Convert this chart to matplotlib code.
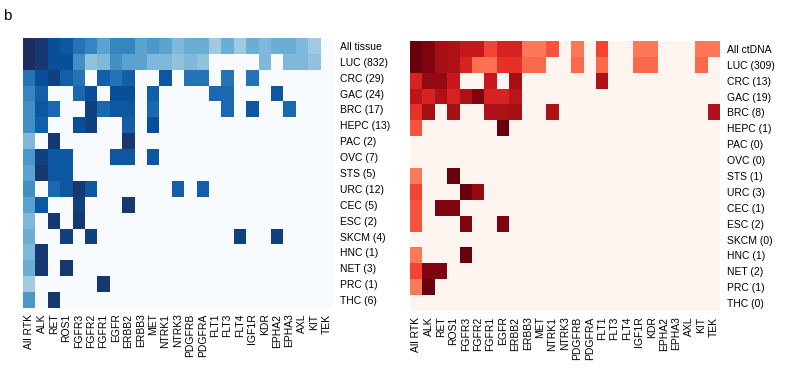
import numpy as np
import matplotlib
matplotlib.use('Agg')
import matplotlib.pyplot as plt
from matplotlib.colors import LinearSegmentedColormap

plt.rcParams['font.family'] = ['Liberation Sans', 'DejaVu Sans']

genes = ['All RTK', 'ALK', 'RET', 'ROS1', 'FGFR3', 'FGFR2', 'FGFR1', 'EGFR', 'ERBB2', 'ERBB3',
         'MET', 'NTRK1', 'NTRK3', 'PDGFRB', 'PDGFRA', 'FLT1', 'FLT3', 'FLT4', 'IGF1R', 'KDR',
         'EPHA2', 'EPHA3', 'AXL', 'KIT', 'TEK']

tissue_labels = ['All tissue', 'LUC (832)', 'CRC (29)', 'GAC (24)', 'BRC (17)', 'HEPC (13)',
                 'PAC (2)', 'OVC (7)', 'STS (5)', 'URC (12)', 'CEC (5)', 'ESC (2)', 'SKCM (4)',
                 'HNC (1)', 'NET (3)', 'PRC (1)', 'THC (6)']
ctdna_labels = ['All ctDNA', 'LUC (309)', 'CRC (13)', 'GAC (19)', 'BRC (8)', 'HEPC (1)',
                'PAC (0)', 'OVC (0)', 'STS (1)', 'URC (3)', 'CEC (1)', 'ESC (2)', 'SKCM (0)',
                'HNC (1)', 'NET (2)', 'PRC (1)', 'THC (0)']

# relative intensity per cell (0 = none)
tissue_vals = [
    [1.0, .96, .88, .85, .74, .67, .55, .67, .67, .55, .60, .55, .45, .50, .50, .37, .50, .37, .50, .45, .50, .50, .45, .37, 0],
    [1.0, .96, .88, .88, .63, .41, .45, .63, .55, .55, .45, .45, .41, .45, .41, 0, 0, 0, 0, .45, 0, .45, .45, .41, 0],
    [.74, .88, .93, .82, .74, 0, .82, .74, .82, 0, 0, .85, 0, .74, .74, 0, .74, 0, .74, 0, 0, 0, 0, 0, 0],
    [.67, .82, 0, 0, .78, .88, 0, .88, .88, 0, .82, 0, 0, 0, 0, .78, .78, 0, 0, 0, .85, 0, 0, 0, 0],
    [.63, .85, .78, 0, 0, .93, .78, .85, .85, 0, .78, 0, 0, 0, 0, 0, .78, 0, .85, 0, 0, .78, 0, 0, 0],
    [.63, .82, 0, 0, .88, .93, 0, 0, .82, 0, .88, 0, 0, 0, 0, 0, 0, 0, 0, 0, 0, 0, 0, 0, 0],
    [.45, 0, .96, 0, 0, 0, 0, 0, .96, 0, 0, 0, 0, 0, 0, 0, 0, 0, 0, 0, 0, 0, 0, 0, 0],
    [.60, .93, .85, .85, 0, 0, 0, .85, .85, 0, .85, 0, 0, 0, 0, 0, 0, 0, 0, 0, 0, 0, 0, 0, 0],
    [.55, .96, .85, .85, 0, 0, 0, 0, 0, 0, 0, 0, 0, 0, 0, 0, 0, 0, 0, 0, 0, 0, 0, 0, 0],
    [.63, 0, .78, .85, .96, .85, 0, 0, 0, 0, 0, 0, .82, 0, .82, 0, 0, 0, 0, 0, 0, 0, 0, 0, 0],
    [.55, .85, 0, 0, .93, 0, 0, 0, .96, 0, 0, 0, 0, 0, 0, 0, 0, 0, 0, 0, 0, 0, 0, 0, 0],
    [.45, 0, .96, 0, .96, 0, 0, 0, 0, 0, 0, 0, 0, 0, 0, 0, 0, 0, 0, 0, 0, 0, 0, 0, 0],
    [.50, 0, 0, .93, 0, .93, 0, 0, 0, 0, 0, 0, 0, 0, 0, 0, 0, .93, 0, 0, .93, 0, 0, 0, 0],
    [.45, .96, 0, 0, 0, 0, 0, 0, 0, 0, 0, 0, 0, 0, 0, 0, 0, 0, 0, 0, 0, 0, 0, 0, 0],
    [.50, .96, 0, .96, 0, 0, 0, 0, 0, 0, 0, 0, 0, 0, 0, 0, 0, 0, 0, 0, 0, 0, 0, 0, 0],
    [.37, 0, 0, 0, 0, 0, .96, 0, 0, 0, 0, 0, 0, 0, 0, 0, 0, 0, 0, 0, 0, 0, 0, 0, 0],
    [.60, 0, .96, 0, 0, 0, 0, 0, 0, 0, 0, 0, 0, 0, 0, 0, 0, 0, 0, 0, 0, 0, 0, 0, 0],
]

ctdna_vals = [
    [1.0, .95, .87, .84, .76, .76, .60, .71, .71, .45, .45, .56, 0, .45, 0, .60, 0, 0, .45, .45, 0, 0, 0, .45, .45],
    [1.0, .95, .87, .84, .71, .48, .48, .66, .66, .50, .50, 0, 0, .50, 0, .50, 0, 0, .50, .50, 0, 0, 0, .50, 0],
    [.71, .91, .91, .76, 0, 0, .76, 0, .87, 0, 0, 0, 0, 0, 0, .84, 0, 0, 0, 0, 0, 0, 0, 0, 0],
    [.80, .71, .84, .71, .84, .95, .71, .71, .80, 0, 0, 0, 0, 0, 0, 0, 0, 0, 0, 0, 0, 0, 0, 0, 0],
    [.66, .87, 0, .87, 0, 0, .84, .84, .87, 0, 0, .84, 0, 0, 0, 0, 0, 0, 0, 0, 0, 0, 0, 0, .84],
    [.56, 0, 0, 0, 0, 0, 0, 1.0, 0, 0, 0, 0, 0, 0, 0, 0, 0, 0, 0, 0, 0, 0, 0, 0, 0],
    [0] * 25,
    [0] * 25,
    [.45, 0, 0, 1.0, 0, 0, 0, 0, 0, 0, 0, 0, 0, 0, 0, 0, 0, 0, 0, 0, 0, 0, 0, 0, 0],
    [.60, 0, 0, 0, 1.0, .91, 0, 0, 0, 0, 0, 0, 0, 0, 0, 0, 0, 0, 0, 0, 0, 0, 0, 0, 0],
    [.56, 0, .95, .95, 0, 0, 0, 0, 0, 0, 0, 0, 0, 0, 0, 0, 0, 0, 0, 0, 0, 0, 0, 0, 0],
    [.56, 0, 0, 0, .95, 0, 0, .95, 0, 0, 0, 0, 0, 0, 0, 0, 0, 0, 0, 0, 0, 0, 0, 0, 0],
    [0] * 25,
    [.45, 0, 0, 0, 1.0, 0, 0, 0, 0, 0, 0, 0, 0, 0, 0, 0, 0, 0, 0, 0, 0, 0, 0, 0, 0],
    [.60, .95, .95, 0, 0, 0, 0, 0, 0, 0, 0, 0, 0, 0, 0, 0, 0, 0, 0, 0, 0, 0, 0, 0, 0],
    [.45, 1.0, 0, 0, 0, 0, 0, 0, 0, 0, 0, 0, 0, 0, 0, 0, 0, 0, 0, 0, 0, 0, 0, 0, 0],
    [0] * 25,
]

blues = LinearSegmentedColormap.from_list(
    'blues_navy', ['#f7fbff', '#deebf7', '#c6dbef', '#9ecae1', '#6baed6',
                   '#4292c6', '#2171b5', '#08519c', '#1c2d5e'])
reds = plt.get_cmap('Reds')

fig = plt.figure(figsize=(7.96, 3.73), dpi=100)
ax1 = fig.add_axes([23 / 796, 1 - 308 / 373, 310 / 796, 270 / 373])
ax2 = fig.add_axes([410 / 796, 1 - 311 / 373, 310 / 796, 270 / 373])

for ax, vals, cmap, ylabels in [(ax1, tissue_vals, blues, tissue_labels),
                                (ax2, ctdna_vals, reds, ctdna_labels)]:
    ax.imshow(np.array(vals), cmap=cmap, vmin=0, vmax=1, aspect='auto', interpolation='nearest')
    ax.set_xticks(range(len(genes)))
    ax.set_xticklabels(genes, rotation=90, fontsize=7.5)
    ax.set_yticks(range(len(ylabels)))
    ax.set_yticklabels(ylabels, fontsize=7.5)
    ax.yaxis.tick_right()
    ax.tick_params(length=0, axis='y', pad=5)
    ax.tick_params(length=0, axis='x', pad=4)
    for s in ax.spines.values():
        s.set_visible(False)

fig.text(0.004, 0.975, 'b', fontsize=11, va='top', ha='left')

fig.savefig('out.png', dpi=100)
